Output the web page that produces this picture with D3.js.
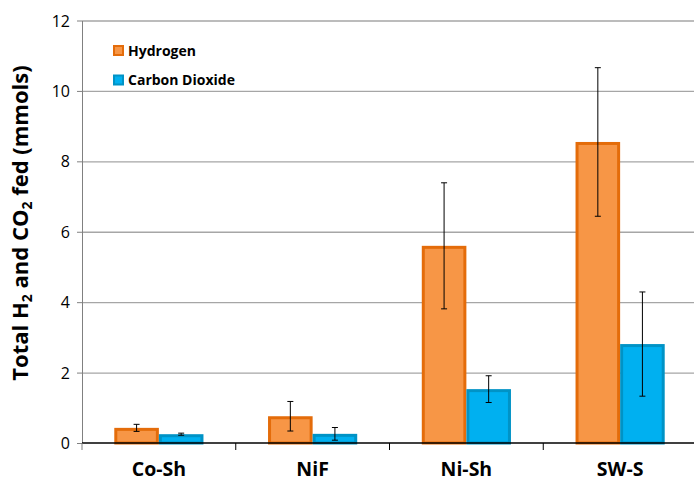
<!DOCTYPE html>
<html>
<head>
<meta charset="utf-8">
<script src="https://cdn.jsdelivr.net/npm/d3@7"></script>
<style>
  body { margin: 0; background: #fff; }
  text { font-family: "Open Sans", "Noto Sans", sans-serif; }
</style>
</head>
<body>
<svg id="chart" width="694" height="496"></svg>
<script>
const width = 694;
const height = 496;

const margin = { top: 20.5, bottom: 53, left: 82, right: -3 };

/* DATA */
const categories = ["Co-Sh", "NiF", "Ni-Sh", "SW-S"];
const series = ["Hydrogen", "Carbon Dioxide"];
const hydrogen = [0.43, 0.76, 5.6, 8.55];
const hydrogenErr = [0.1, 0.42, 1.79, 2.11];
const co2 = [0.25, 0.26, 1.53, 2.81];
const co2Err = [0.03, 0.18, 0.38, 1.48];
const yTicks = [0, 2, 4, 6, 8, 10, 12];

const colors = {
  "Hydrogen": { fill: "#f79646", stroke: "#e46c0a" },
  "Carbon Dioxide": { fill: "#00b0f0", stroke: "#0093c6" }
};

const svg = d3.select("svg#chart");
const plot = svg.append("g").attr("transform", translate(margin.left, margin.top));

const plotWidth = width - margin.left - margin.right;
const plotHeight = height - margin.top - margin.bottom;

/* SCALES */
const x = d3.scaleBand().domain(categories).range([0, plotWidth]).padding(0);
const inner = d3.scaleBand().domain(series).range([x.bandwidth() * 0.21, x.bandwidth() * 0.79]).padding(0);
const y = d3.scaleLinear().domain([0, 12]).range([plotHeight, 0]);

/* GRID */
plot.append("g")
  .call(d3.axisLeft(y).tickValues(yTicks.slice(1)).tickSize(-plotWidth).tickFormat(""))
  .call(g => g.select(".domain").remove())
  .call(g => g.selectAll("line").attr("stroke", "#a6a6a6").attr("stroke-width", 1.3));

/* Y AXIS */
const yAxis = plot.append("g")
  .call(d3.axisLeft(y).tickValues(yTicks).tickSize(5).tickSizeOuter(0).tickPadding(7))
  .call(g => g.select(".domain").attr("stroke", "#808080"))
  .call(g => g.selectAll(".tick line").attr("stroke", "#808080"));
yAxis.selectAll("text").attr("font-size", 16).attr("fill", "#000").attr("dy", "0.35em");

/* BARS */
const rows = categories.map((c, i) => ({
  cat: c,
  values: [
    { s: "Hydrogen", v: hydrogen[i], e: hydrogenErr[i] },
    { s: "Carbon Dioxide", v: co2[i], e: co2Err[i] }
  ]
}));

const groups = plot.append("g").selectAll("g")
  .data(rows)
  .enter()
  .append("g")
  .attr("transform", d => translate(x(d.cat), 0));

groups.selectAll("rect")
  .data(d => d.values)
  .enter()
  .append("rect")
  .attr("x", d => inner(d.s) + 1.5)
  .attr("width", inner.bandwidth() - 3)
  .attr("y", d => y(d.v) + 1.5)
  .attr("height", d => Math.max(0, y(0) - y(d.v) - 1.5))
  .attr("fill", d => colors[d.s].fill)
  .attr("stroke", d => colors[d.s].stroke)
  .attr("stroke-width", 3);

/* ERROR BARS */
const errs = groups.selectAll("g.err")
  .data(d => d.values)
  .enter()
  .append("g")
  .attr("class", "err")
  .attr("stroke", "#000")
  .attr("stroke-width", 1);

errs.append("line")
  .attr("x1", d => inner(d.s) + inner.bandwidth() / 2)
  .attr("x2", d => inner(d.s) + inner.bandwidth() / 2)
  .attr("y1", d => y(d.v + d.e))
  .attr("y2", d => y(Math.max(0, d.v - d.e)));

errs.append("line")
  .attr("x1", d => inner(d.s) + inner.bandwidth() / 2 - 3)
  .attr("x2", d => inner(d.s) + inner.bandwidth() / 2 + 3)
  .attr("y1", d => y(d.v + d.e))
  .attr("y2", d => y(d.v + d.e));

errs.append("line")
  .attr("x1", d => inner(d.s) + inner.bandwidth() / 2 - 3)
  .attr("x2", d => inner(d.s) + inner.bandwidth() / 2 + 3)
  .attr("y1", d => y(Math.max(0, d.v - d.e)))
  .attr("y2", d => y(Math.max(0, d.v - d.e)));

/* X AXIS */
const xAxisG = plot.append("g").attr("transform", translate(0, plotHeight));
xAxisG.append("line")
  .attr("x1", 0).attr("x2", plotWidth)
  .attr("stroke", "#000").attr("stroke-width", 1.3);
xAxisG.selectAll("line.tick")
  .data(categories.concat(["end"]))
  .enter()
  .append("line")
  .attr("class", "tick")
  .attr("x1", (d, i) => i * x.step())
  .attr("x2", (d, i) => i * x.step())
  .attr("y1", 0).attr("y2", 7)
  .attr("stroke", (d, i) => i === 0 ? "#808080" : "#000");
xAxisG.selectAll("text")
  .data(categories)
  .enter()
  .append("text")
  .attr("x", d => x(d) + x.bandwidth() / 2)
  .attr("y", 33)
  .attr("text-anchor", "middle")
  .attr("font-size", 19.5)
  .attr("font-weight", "bold")
  .text(d => d);

/* Y TITLE */
const yTitle = svg.append("text")
  .attr("transform", translate(28, 223) + " rotate(-90)")
  .attr("text-anchor", "middle")
  .attr("font-size", 22)
  .attr("font-weight", "bold");
yTitle.append("tspan").text("Total H");
yTitle.append("tspan").attr("font-size", 14).attr("dy", 4).text("2");
yTitle.append("tspan").attr("dy", -4).text(" and CO");
yTitle.append("tspan").attr("font-size", 14).attr("dy", 4).text("2");
yTitle.append("tspan").attr("dy", -4).text(" fed (mmols)");

/* LEGEND */
const legend = svg.append("g").attr("transform", translate(113, 45));
const items = legend.selectAll("g")
  .data(series)
  .enter()
  .append("g")
  .attr("transform", (d, i) => translate(0, i * 29.5));
items.append("rect")
  .attr("x", 1).attr("y", 1)
  .attr("width", 9).attr("height", 9)
  .attr("fill", d => colors[d].fill)
  .attr("stroke", d => colors[d].stroke)
  .attr("stroke-width", 2);
items.append("text")
  .attr("x", 15).attr("y", 10.5)
  .attr("font-size", 14)
  .attr("font-weight", "bold")
  .text(d => d);

function translate(a, b) {
  return "translate(" + a + "," + b + ")";
}
</script>
</body>
</html>
